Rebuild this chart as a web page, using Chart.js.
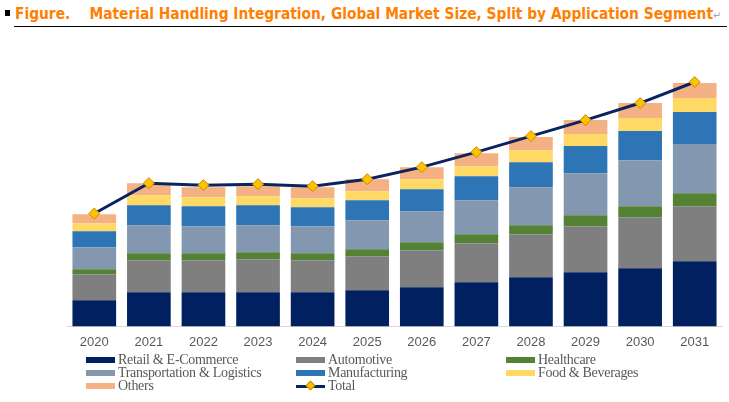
<!DOCTYPE html>
<html>
<head>
<meta charset="utf-8">
<script src="https://cdn.jsdelivr.net/npm/chart.js@4.4.1/dist/chart.umd.min.js"></script>
<style>
  html, body { margin: 0; padding: 0; background: #fff; }
  body { width: 729px; height: 402px; position: relative; overflow: hidden; }
  #sq { position: absolute; left: 5px; top: 10px; width: 5px; height: 6px; background: #000; }
  #title { position: absolute; left: 15px; top: 4px; white-space: nowrap; transform-origin: 0 0;
           font-family: "Liberation Sans Narrow", "DejaVu Sans", sans-serif; font-stretch: condensed;
           font-weight: bold; font-size: 16px; color: #ff8000; line-height: 20px; }
  #title .pm { color: #a6a6a6; font-weight: normal; font-size: 11px; }
  #rule { position: absolute; left: 14px; top: 26px; width: 713px; height: 0; border-top: 1.5px solid #000; }
  #wrap { position: absolute; left: 0; top: 0; width: 729px; height: 350px; }
  #legend { position: absolute; left: 0; top: 0; width: 729px; height: 402px; pointer-events: none; }
  .li { position: absolute; font-family: "Liberation Serif", "Times New Roman", serif; font-size: 14px;
        color: #595959; white-space: nowrap; line-height: 14px; letter-spacing: -0.3px; }
  .sw { position: absolute; width: 29px; height: 6px; }
</style>
</head>
<body>
<div id="sq"></div>
<div id="title">Figure.&nbsp;&nbsp;&nbsp; Material Handling Integration, Global Market Size, Split by Application Segment<span class="pm">↵</span></div>
<div id="rule"></div>
<div id="wrap"><canvas id="c"></canvas></div>
<div id="legend"></div>
<script>
const years = ["2020","2021","2022","2023","2024","2025","2026","2027","2028","2029","2030","2031"];
const retail         = [26, 34, 34, 34, 34, 36, 39, 44, 49, 54, 58, 65];
const automotive     = [26, 32, 32, 33, 32, 34, 37, 39, 43, 46, 51, 55];
const healthcare     = [5, 7, 7, 7, 7, 7, 8, 9, 9, 11, 11, 13];
const transportation = [22, 28, 27, 27, 27, 29, 31, 34, 38, 42, 46, 49];
const manufacturing  = [16, 20, 20, 20, 19, 20, 22, 24, 25, 27, 29, 32];
const foodBeverages  = [8, 10, 9, 9, 9, 9, 10, 10, 12, 12, 13, 14];
const others         = [9, 12, 10, 10, 11, 12, 12, 13, 13, 14, 15, 15];
const total          = [112.7, 143, 141, 142, 140, 147, 159, 174, 190, 206, 223, 244];

const seriesNames = ["Retail & E-Commerce","Automotive","Healthcare","Transportation & Logistics","Manufacturing","Food & Beverages","Others"];
const seriesData = [retail, automotive, healthcare, transportation, manufacturing, foodBeverages, others];
const seriesColors = ["#002060","#7f7f7f","#548235","#8497b0","#2e75b6","#ffd966","#f4b183"];
const lineColor = "#0b2460";
const markerFill = "#ffc000";
const markerBorder = "#bf9000";

const datasets = seriesNames.map((n, i) => ({
  type: 'bar', label: n, data: seriesData[i], backgroundColor: seriesColors[i],
  borderWidth: 0, barPercentage: 1.0, categoryPercentage: 0.8, order: 1
}));
datasets.push({
  type: 'line', label: 'Total', data: total, borderColor: lineColor, borderWidth: 3,
  pointStyle: 'rectRot', pointRadius: 5.5, pointBackgroundColor: markerFill,
  pointBorderColor: markerBorder, pointBorderWidth: 1, tension: 0, order: 0, fill: false
});

new Chart(document.getElementById('c'), {
  data: { labels: years, datasets },
  options: {
    responsive: true, maintainAspectRatio: false, animation: false,
    layout: { padding: { left: 67, right: 7, top: 66, bottom: 0 } },
    plugins: { legend: { display: false }, tooltip: { enabled: false } },
    scales: {
      x: { stacked: true, grid: { display: false }, border: { display: true, color: '#d9d9d9', width: 1 },
           ticks: { color: '#595959', font: { family: 'Liberation Sans, Arial, sans-serif', size: 13 }, padding: 0, maxRotation: 0 } },
      y: { stacked: true, display: false, min: 0, max: 260 }
    }
  }
});

// HTML legend built from series arrays
const leg = document.getElementById('legend');
const colX = [86, 296, 506];
const rowY = [360, 373, 386];
const items = seriesNames.map((n, i) => ({ name: n, color: seriesColors[i], line: false }));
items.push({ name: 'Total', line: true });
items.forEach((it, k) => {
  const c = k % 3, r = Math.floor(k / 3);
  const x = colX[c], y = rowY[r];
  if (it.line) {
    const ln = document.createElement('div');
    ln.style.cssText = `position:absolute;left:${x}px;top:${y-1.5}px;width:29px;height:3px;background:${lineColor}`;
    leg.appendChild(ln);
    const d = document.createElement('div');
    d.style.cssText = `position:absolute;left:${x+10.5}px;top:${y-4}px;width:7px;height:7px;background:${markerFill};border:0.5px solid ${markerBorder};transform:rotate(45deg);box-sizing:border-box`;
    leg.appendChild(d);
  } else {
    const s = document.createElement('div');
    s.className = 'sw';
    s.style.left = x + 'px'; s.style.top = (y - 3) + 'px'; s.style.background = it.color;
    leg.appendChild(s);
  }
  const t = document.createElement('div');
  t.className = 'li';
  t.textContent = it.name;
  t.style.left = (x + 32) + 'px'; t.style.top = (y - 7) + 'px';
  leg.appendChild(t);
});

// fit title width
const ti = document.getElementById('title');
const w = ti.getBoundingClientRect().width;
const target = 706;
ti.style.transform = `scaleX(${target / w})`;
</script>
</body>
</html>
